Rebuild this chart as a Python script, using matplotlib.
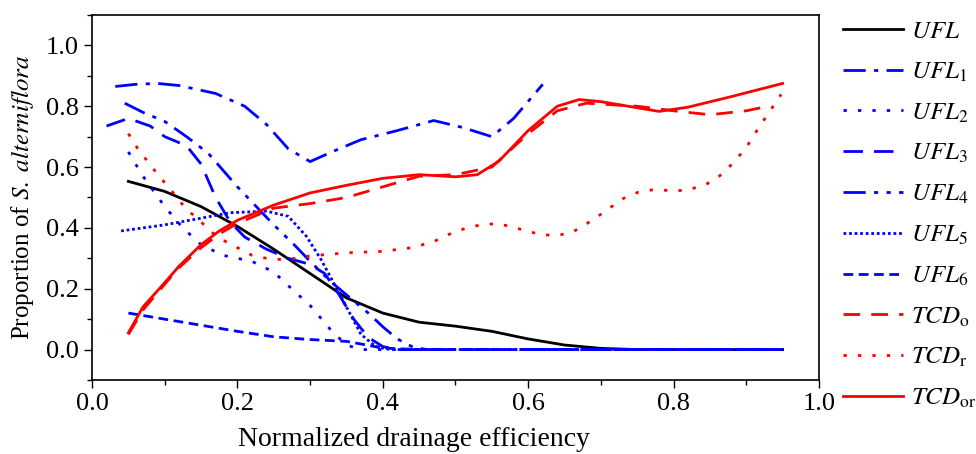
import matplotlib
matplotlib.use('Agg')
import matplotlib.pyplot as plt
from matplotlib.ticker import MultipleLocator

plt.rcParams['font.family'] = 'serif'
plt.rcParams['font.serif'] = ['Liberation Serif', 'DejaVu Serif']
plt.rcParams['mathtext.fontset'] = 'stix'

# UFL (black solid)
ufl_x = [0.05, 0.10, 0.15, 0.20, 0.25, 0.30, 0.35, 0.40, 0.45, 0.50, 0.55, 0.60, 0.65, 0.70, 0.75, 0.80, 0.85, 0.90, 0.95]
ufl_y = [0.553, 0.52, 0.47, 0.405, 0.33, 0.25, 0.17, 0.12, 0.09, 0.077, 0.06, 0.035, 0.015, 0.004, 0.0, 0.0, 0.0, 0.0, 0.0]

ufl1_x = [0.032, 0.06, 0.09, 0.12, 0.17, 0.21, 0.24, 0.27, 0.30, 0.33, 0.37, 0.42, 0.47, 0.51, 0.55, 0.58, 0.62]
ufl1_y = [0.865, 0.872, 0.875, 0.868, 0.842, 0.80, 0.74, 0.66, 0.618, 0.65, 0.69, 0.72, 0.753, 0.73, 0.70, 0.76, 0.872]

ufl2_x = [0.05, 0.07, 0.10, 0.125, 0.15, 0.18, 0.20, 0.22, 0.25, 0.27, 0.30, 0.33, 0.35, 0.37, 0.40, 0.50, 0.60, 0.70, 0.80, 0.95]
ufl2_y = [0.65, 0.57, 0.47, 0.40, 0.345, 0.31, 0.30, 0.29, 0.255, 0.21, 0.145, 0.06, 0.015, 0.0, 0.0, 0.0, 0.0, 0.0, 0.0, 0.0]

ufl3_x = [0.02, 0.05, 0.08, 0.10, 0.13, 0.15, 0.17, 0.19, 0.21, 0.24, 0.27, 0.30, 0.32, 0.34, 0.36, 0.38, 0.40, 0.42, 0.50, 0.60, 0.70, 0.80, 0.95]
ufl3_y = [0.735, 0.76, 0.735, 0.70, 0.67, 0.61, 0.50, 0.42, 0.37, 0.33, 0.30, 0.28, 0.25, 0.18, 0.10, 0.04, 0.01, 0.0, 0.0, 0.0, 0.0, 0.0, 0.0]

ufl4_x = [0.045, 0.07, 0.10, 0.13, 0.16, 0.18, 0.20, 0.22, 0.25, 0.28, 0.30, 0.33, 0.36, 0.38, 0.40, 0.42, 0.44, 0.46, 0.55, 0.65, 0.75, 0.85, 0.95]
ufl4_y = [0.81, 0.78, 0.75, 0.70, 0.645, 0.59, 0.535, 0.485, 0.41, 0.34, 0.29, 0.22, 0.16, 0.12, 0.075, 0.035, 0.01, 0.0, 0.0, 0.0, 0.0, 0.0, 0.0]

ufl5_x = [0.04, 0.10, 0.15, 0.19, 0.24, 0.27, 0.295, 0.315, 0.33, 0.35, 0.37, 0.39, 0.41, 0.50, 0.60, 0.70, 0.80, 0.95]
ufl5_y = [0.39, 0.41, 0.432, 0.45, 0.455, 0.438, 0.372, 0.296, 0.23, 0.14, 0.05, 0.01, 0.0, 0.0, 0.0, 0.0, 0.0, 0.0]

ufl6_x = [0.05, 0.10, 0.15, 0.20, 0.25, 0.30, 0.35, 0.38, 0.40, 0.45, 0.55, 0.65, 0.75, 0.85, 0.95]
ufl6_y = [0.12, 0.10, 0.08, 0.06, 0.042, 0.033, 0.027, 0.014, 0.005, 0.0, 0.0, 0.0, 0.0, 0.0, 0.0]

tcdo_x = [0.05, 0.07, 0.10, 0.12, 0.15, 0.175, 0.20, 0.25, 0.30, 0.35, 0.40, 0.45, 0.50, 0.55, 0.60, 0.64, 0.68, 0.75, 0.80, 0.85, 0.90, 0.93]
tcdo_y = [0.05, 0.13, 0.215, 0.27, 0.335, 0.38, 0.415, 0.465, 0.48, 0.50, 0.535, 0.57, 0.575, 0.60, 0.71, 0.785, 0.81, 0.80, 0.785, 0.772, 0.785, 0.80]

tcdr_x = [0.05, 0.063, 0.076, 0.089, 0.103, 0.117, 0.13, 0.146, 0.162, 0.18, 0.20, 0.22, 0.24, 0.26, 0.28, 0.30, 0.35, 0.40, 0.44, 0.47, 0.49, 0.513, 0.534, 0.556, 0.576, 0.597, 0.618, 0.639, 0.66, 0.678, 0.696, 0.713, 0.731, 0.751, 0.773, 0.794, 0.816, 0.836, 0.854, 0.871, 0.886, 0.90, 0.911, 0.923, 0.935, 0.948]
tcdr_y = [0.71, 0.66, 0.62, 0.58, 0.54, 0.50, 0.46, 0.43, 0.39, 0.36, 0.335, 0.31, 0.30, 0.296, 0.30, 0.308, 0.318, 0.323, 0.335, 0.355, 0.378, 0.398, 0.41, 0.414, 0.405, 0.39, 0.378, 0.375, 0.385, 0.41, 0.438, 0.467, 0.497, 0.517, 0.526, 0.523, 0.523, 0.536, 0.553, 0.586, 0.625, 0.664, 0.707, 0.75, 0.793, 0.839]

tcdor_x = [0.05, 0.07, 0.10, 0.12, 0.15, 0.175, 0.20, 0.25, 0.30, 0.35, 0.40, 0.45, 0.50, 0.53, 0.56, 0.60, 0.64, 0.67, 0.70, 0.75, 0.78, 0.82, 0.88, 0.95]
tcdor_y = [0.055, 0.14, 0.22, 0.275, 0.345, 0.39, 0.425, 0.475, 0.515, 0.54, 0.563, 0.575, 0.568, 0.575, 0.62, 0.72, 0.80, 0.822, 0.815, 0.795, 0.783, 0.797, 0.832, 0.875]

fig = plt.figure(figsize=(9.76, 4.54), dpi=100)
ax = fig.add_axes([0.0943, 0.163, 0.7448, 0.804])

lw = 2.0
blue = '#0000FF'
red = '#FF0000'
ax.plot(ufl_x, ufl_y, color='black', lw=lw, label=r'$\mathit{UFL}$')
ax.plot(ufl1_x, ufl1_y, color=blue, lw=lw, ls=(0, (8, 3, 1.5, 3)), label=r'$\mathit{UFL}_1$')
ax.plot(ufl2_x, ufl2_y, color=blue, lw=lw, ls=(0, (1.2, 4)), label=r'$\mathit{UFL}_2$')
ax.plot(ufl3_x, ufl3_y, color=blue, lw=lw, ls=(0, (7, 4)), label=r'$\mathit{UFL}_3$')
ax.plot(ufl4_x, ufl4_y, color=blue, lw=lw, ls=(0, (8, 3, 1.5, 3, 1.5, 3)), label=r'$\mathit{UFL}_4$')
ax.plot(ufl5_x, ufl5_y, color=blue, lw=lw, ls=(0, (1, 1)), label=r'$\mathit{UFL}_5$')
ax.plot(ufl6_x, ufl6_y, color=blue, lw=lw, ls=(0, (3.5, 2)), label=r'$\mathit{UFL}_6$')
ax.plot(tcdo_x, tcdo_y, color=red, lw=lw, ls=(0, (6, 4)), label=r'$\mathit{TCD}_{\mathrm{o}}$')
ax.plot(tcdr_x, tcdr_y, color=red, lw=lw, ls=(0, (1.2, 4)), label=r'$\mathit{TCD}_{\mathrm{r}}$')
ax.plot(tcdor_x, tcdor_y, color=red, lw=lw, label=r'$\mathit{TCD}_{\mathrm{or}}$')

ax.set_xlim(0, 1.0)
ax.set_ylim(-0.1, 1.1)
ax.xaxis.set_major_locator(MultipleLocator(0.2))
ax.xaxis.set_minor_locator(MultipleLocator(0.1))
ax.yaxis.set_major_locator(MultipleLocator(0.2))
ax.yaxis.set_minor_locator(MultipleLocator(0.1))
ax.set_yticks([0.0, 0.2, 0.4, 0.6, 0.8, 1.0])
ax.tick_params(which='major', direction='out', length=6, width=1, labelsize=19)
ax.tick_params(which='minor', direction='out', length=3.5, width=1)
for s in ax.spines.values():
    s.set_linewidth(1.2)

ax.set_xlabel('Normalized drainage efficiency', fontsize=20)
ax.xaxis.set_label_coords(0.443, -0.13)
ax.set_ylabel(r'Proportion of $\mathit{S.\ alterniflora}$', fontsize=18, labelpad=7)

ax.legend(loc='upper left', bbox_to_anchor=(0.864, 0.955), bbox_transform=fig.transFigure,
          frameon=False, fontsize=18, handlelength=2.4, handletextpad=0.3,
          labelspacing=0.70, borderaxespad=0, borderpad=0)

fig.savefig('out.png', dpi=100)
